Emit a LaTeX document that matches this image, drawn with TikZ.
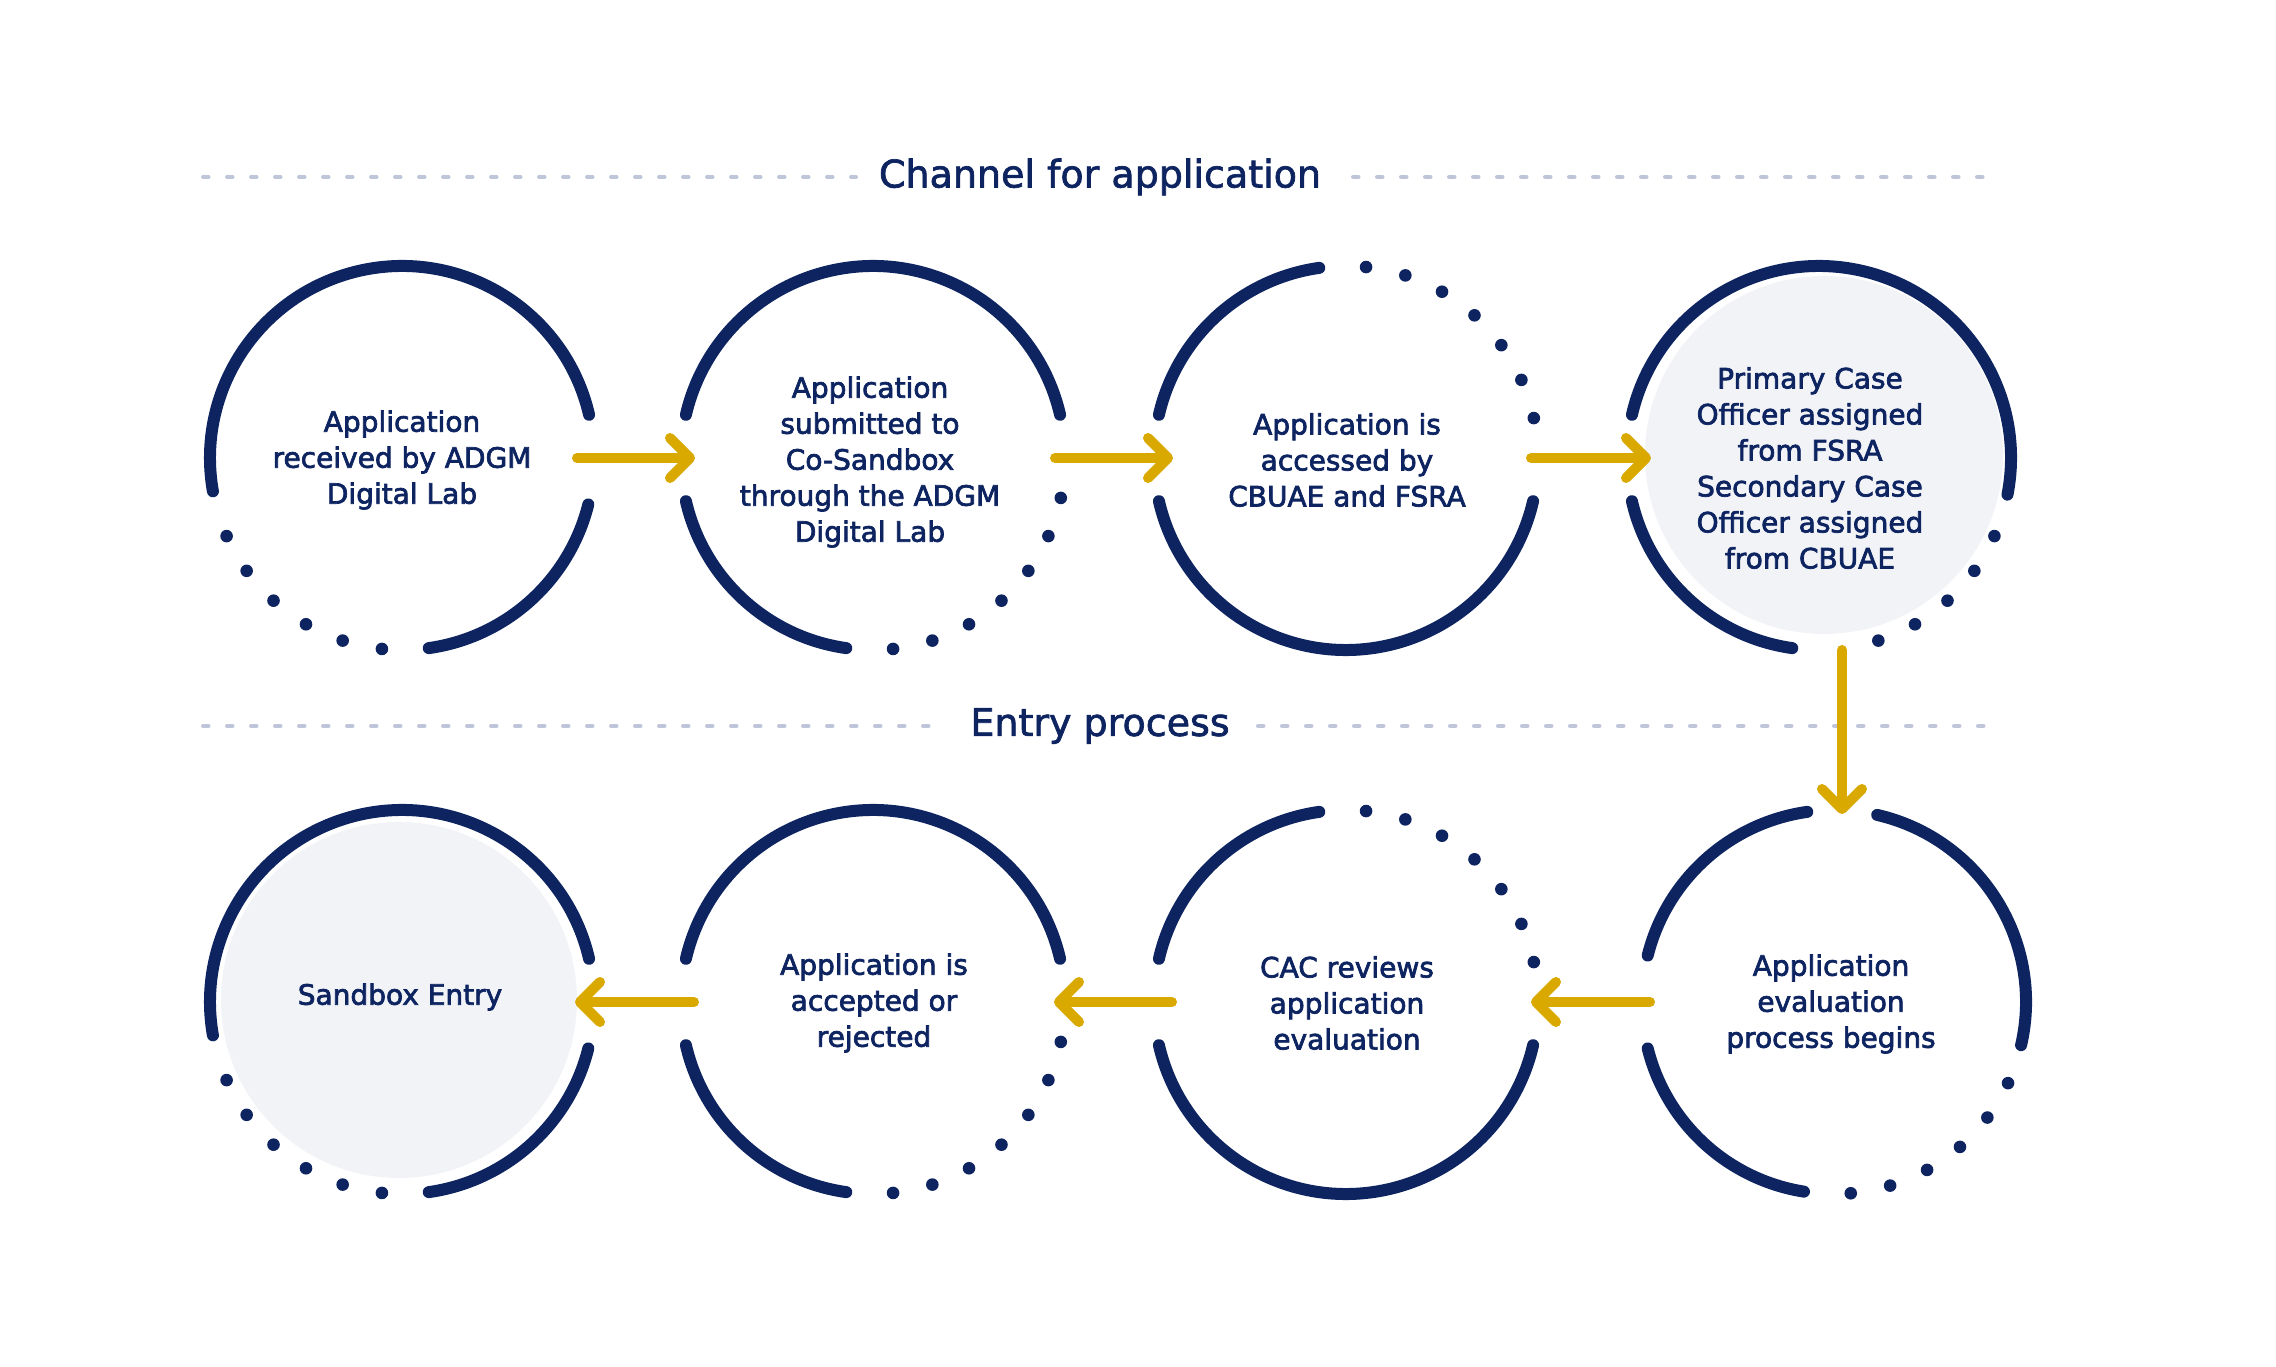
\documentclass[tikz,border=0pt]{standalone}
\usepackage{fontspec}
\setmainfont{DejaVu Sans}
\usetikzlibrary{arrows.meta,calc}
\definecolor{navy}{HTML}{0D2461}
\definecolor{gold}{HTML}{D9A900}
\definecolor{softfill}{HTML}{F1F3F7}
\definecolor{dashc}{HTML}{C0C6D9}
\newcommand\heavier{\special{pdf:literal direct 2 Tr 0.35 w}}
\newcommand\ringarc[3]{\draw[ring] ($(#1)+(#2:192)$) arc[start angle=#2,end angle=#3,radius=192];}
\newcommand\ringdots[2]{\foreach \a in {#2} {\fill[navy] ($(#1)+(\a:192)$) circle[radius=6.3];}}
\begin{document}
\begin{tikzpicture}[x=0.5pt,y=0.5pt,
  ring/.style={draw=navy,line width=6pt,line cap=round},
  flow/.style={draw=gold,line width=5pt,line cap=round,
    -{Straight Barb[length=10pt,width=20pt,line cap=round,line join=round]}},
  dashline/.style={draw=dashc,line width=2pt,line cap=round,dash pattern=on 2.75pt off 9.25pt},
  label/.style={text=navy,align=center,font=\fontsize{14}{18}\selectfont\heavier,inner sep=0pt},
  heading/.style={text=navy,font=\fontsize{19}{23}\selectfont\heavier,inner sep=0pt}]
\useasboundingbox (0,0) rectangle (2276,1366);
\fill[white] (0,0) rectangle (2276,1366);

% circle centres
\coordinate (c1) at (402,908);
\coordinate (c2) at (873,908);
\coordinate (c3) at (1346,908);
\coordinate (c4) at (1819,908);
\coordinate (c5) at (402,364);
\coordinate (c6) at (873,364);
\coordinate (c7) at (1346,364);
\coordinate (c8) at (1834,364);

% headings and dashed rules
\node[heading] (h1) at (1100,1189) {Channel for application};
\node[heading] (h2) at (1100,640) {Entry process};
\coordinate (h1l) at (203,1189); \coordinate (h1la) at (856,1189);
\coordinate (h1r) at (1353,1189); \coordinate (h1ra) at (1989,1189);
\coordinate (h2l) at (203,640); \coordinate (h2la) at (936,640);
\coordinate (h2r) at (1258,640); \coordinate (h2ra) at (1989,640);
\draw[dashline] (h1l) -- (h1la);
\draw[dashline] (h1r) -- (h1ra);
\draw[dashline] (h2l) -- (h2la);
\draw[dashline] (h2r) -- (h2ra);

% fills
\fill[softfill] (1824,911) circle[radius=179];
\fill[softfill] (399,366) circle[radius=178];

% rings
\ringarc{c1}{13}{190} \ringarc{c1}{278}{346} \ringdots{c1}{204,216,...,264}
\ringarc{c2}{13}{167} \ringarc{c2}{193}{262} \ringdots{c2}{276,288,...,348}
\ringarc{c3}{98}{167} \ringarc{c3}{193}{347} \ringdots{c3}{12,24,...,84}
\ringarc{c4}{-11}{167} \ringarc{c4}{193}{262} \ringdots{c4}{288,300,...,336}
\ringarc{c5}{13}{190} \ringarc{c5}{278}{346} \ringdots{c5}{204,216,...,264}
\ringarc{c6}{13}{167} \ringarc{c6}{193}{262} \ringdots{c6}{276,288,...,348}
\ringarc{c7}{98}{167} \ringarc{c7}{193}{347} \ringdots{c7}{12,24,...,84}
\ringarc{c8}{-13}{77} \ringarc{c8}{98}{166} \ringarc{c8}{194}{261} \ringdots{c8}{275,287,...,335}

% labels
\node[label] (t1) at (402,906) {Application\\received by ADGM\\Digital Lab};
\node[label] (t2) at (870,904) {Application\\submitted to\\Co-Sandbox\\through the ADGM\\Digital Lab};
\node[label] (t3) at (1347,906) {Application is\\accessed by\\CBUAE and FSRA};
\node[label] (t4) at (1810,898) {Primary Case\\Officer assigned\\from FSRA\\Secondary Case\\Officer assigned\\from CBUAE};
\node[label] (t5) at (400,369) {Sandbox Entry};
\node[label] (t6) at (874,363) {Application is\\accepted or\\rejected};
\node[label] (t7) at (1347,363) {CAC reviews\\application\\evaluation};
\node[label] (t8) at (1831,362) {Application\\evaluation\\process begins};

% connectors
\coordinate (a1s) at (577,908); \coordinate (a1e) at (695,908);
\coordinate (a2s) at (1055,908); \coordinate (a2e) at (1173,908);
\coordinate (a3s) at (1531,908); \coordinate (a3e) at (1651,908);
\coordinate (ds) at (1842,716); \coordinate (de) at (1842,552);
\coordinate (b1s) at (1650,364); \coordinate (b1e) at (1531,364);
\coordinate (b2s) at (1172,364); \coordinate (b2e) at (1054,364);
\coordinate (b3s) at (694,364); \coordinate (b3e) at (575,364);
\draw[flow] (a1s) -- (a1e);
\draw[flow] (a2s) -- (a2e);
\draw[flow] (a3s) -- (a3e);
\draw[flow] (ds) -- (de);
\draw[flow] (b1s) -- (b1e);
\draw[flow] (b2s) -- (b2e);
\draw[flow] (b3s) -- (b3e);
\end{tikzpicture}
\end{document}
